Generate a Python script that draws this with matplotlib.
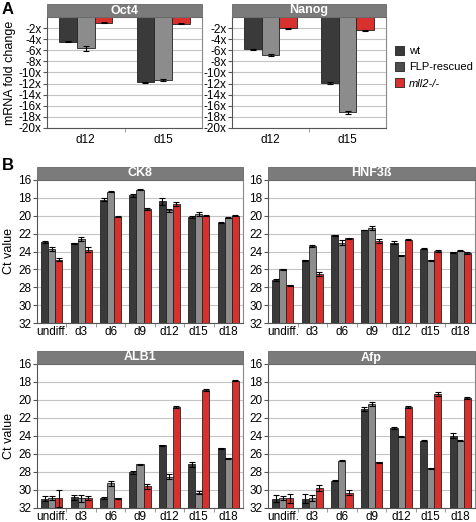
import numpy as np
import matplotlib
matplotlib.use("Agg")
import matplotlib.pyplot as plt
from matplotlib.patches import Rectangle, Patch

plt.rcParams['font.family'] = ['Liberation Sans', 'DejaVu Sans']
plt.rcParams['font.size'] = 8

# ---- data ----
series = ['wt', 'FLP-rescued', 'mll2-/-']
colors = ['#3a3a3a', '#8c8c8c', '#d8302c']
legend_colors = ['#3a3a3a', '#4d4d4d', '#d8302c']

days_a = ['d12', 'd15']
oct4 = [[-4.45, -11.8], [-5.65, -11.35], [-1.0, -1.2]]
oct4_err = [[0.1, 0.1], [0.4, 0.2], [0.15, 0.15]]
nanog = [[-5.8, -11.9], [-6.8, -17.2], [-2.05, -2.4]]
nanog_err = [[0.1, 0.1], [0.2, 0.2], [0.1, 0.1]]

days_b = ['undiff.', 'd3', 'd6', 'd9', 'd12', 'd15', 'd18']
ck8 = [[22.9, 23.1, 18.2, 17.7, 18.4, 20.1, 20.8],
       [23.7, 22.6, 17.3, 17.1, 19.4, 19.8, 20.2],
       [24.9, 23.8, 20.1, 19.25, 18.7, 20.0, 20.0]]
ck8_err = [[0.1, 0.1, 0.15, 0.15, 0.4, 0.1, 0.05],
           [0.2, 0.25, 0.05, 0.05, 0.15, 0.2, 0.05],
           [0.2, 0.3, 0.05, 0.1, 0.25, 0.05, 0.05]]
hnf = [[27.2, 25.0, 22.2, 21.6, 23.0, 23.7, 24.1],
       [26.0, 23.4, 23.0, 21.4, 24.4, 25.0, 23.9],
       [27.8, 26.5, 22.5, 22.8, 22.7, 23.9, 24.2]]
hnf_err = [[0.1, 0.05, 0.05, 0.05, 0.2, 0.05, 0.05],
           [0.05, 0.15, 0.25, 0.2, 0.05, 0.05, 0.05],
           [0.05, 0.2, 0.05, 0.2, 0.05, 0.1, 0.1]]
alb1 = [[30.95, 30.8, 30.9, 28.05, 25.05, 27.15, 25.35],
        [30.9, 30.9, 29.25, 27.15, 28.5, 30.3, 26.45],
        [30.9, 30.9, 30.9, 29.6, 20.8, 18.9, 17.85]]
alb1_err = [[0.3, 0.3, 0.1, 0.2, 0.1, 0.3, 0.05],
            [0.2, 0.4, 0.3, 0.05, 0.25, 0.15, 0.05],
            [0.95, 0.25, 0.05, 0.3, 0.1, 0.1, 0.05]]
afp = [[30.95, 30.95, 28.95, 21.0, 23.1, 24.5, 23.95],
       [30.9, 30.9, 26.75, 20.45, 24.1, 27.6, 24.5],
       [30.9, 29.75, 30.3, 26.9, 20.75, 19.3, 19.8]]
afp_err = [[0.35, 0.5, 0.1, 0.2, 0.1, 0.05, 0.25],
           [0.2, 0.3, 0.05, 0.25, 0.05, 0.05, 0.05],
           [0.5, 0.35, 0.3, 0.05, 0.1, 0.2, 0.1]]

W, H = 476, 522
fig = plt.figure(figsize=(W / 100, H / 100), dpi=100)


def px_axes(x0, y0, x1, y1):
    return fig.add_axes([x0 / W, 1 - y1 / H, (x1 - x0) / W, (y1 - y0) / H])


def title_bar(ax, text):
    bb = ax.get_position()
    h = 13 / H
    fig.add_artist(Rectangle((bb.x0, bb.y1), bb.width, h, transform=fig.transFigure,
                             facecolor='#7b7b7b', edgecolor='#666666', lw=0.6))
    fig.text(bb.x0 + bb.width / 2, bb.y1 + h / 2, text, color='white',
             fontweight='bold', fontsize=9, ha='center', va='center')


def style(ax, cats):
    for s in ax.spines.values():
        s.set_color('#888888')
        s.set_linewidth(0.8)
    ax.spines['left'].set_color('#555555')
    ax.spines['bottom'].set_color('#555555')
    ax.set_axisbelow(True)
    ax.yaxis.grid(True, color='#c4c4c4', lw=0.8)
    ax.set_xticks(np.arange(len(cats)))
    ax.set_xticklabels(cats, fontsize=8.5)
    ax.set_xticks(np.arange(len(cats) - 1) + 0.5, minor=True)
    ax.tick_params(axis='x', which='major', length=0, pad=2.5)
    ax.tick_params(axis='x', which='minor', length=3, color='#888888')
    ax.tick_params(axis='y', length=3, color='#555555', labelsize=8.5, pad=1)
    ax.set_xlim(-0.5, len(cats) - 0.5)


def draw_a(ax, vals, errs, cats):
    w = 0.23
    x = np.arange(len(cats))
    for i in range(3):
        ax.bar(x + (i - 1) * w, vals[i], w, yerr=errs[i], color=colors[i],
               edgecolor='#222222', lw=0.6,
               error_kw=dict(ecolor='black', elinewidth=0.8, capsize=2, capthick=0.8))
    ax.set_ylim(-20, 0)
    ticks = np.arange(-20, 0, 2)
    ax.set_yticks(ticks)
    ax.set_yticklabels(['%dx' % t for t in ticks])
    style(ax, cats)
    ax.tick_params(axis='x', which='major', pad=4)


def draw_b(ax, vals, errs, cats):
    w = 0.24
    x = np.arange(len(cats))
    for i in range(3):
        v = np.array(vals[i])
        ax.bar(x + (i - 1) * w, v - 32, w, bottom=32, yerr=[errs[i], errs[i]],
               color=colors[i], edgecolor='#222222', lw=0.6,
               error_kw=dict(ecolor='black', elinewidth=0.8, capsize=2, capthick=0.8))
    ax.set_ylim(32, 16)
    ax.set_yticks(np.arange(16, 33, 2))
    style(ax, cats)


ax1 = px_axes(47, 17, 202, 128)
draw_a(ax1, oct4, oct4_err, days_a)
title_bar(ax1, 'Oct4')
ax1.set_ylabel('mRNA fold change', fontsize=9, labelpad=2)

ax2 = px_axes(232, 17, 386, 128)
draw_a(ax2, nanog, nanog_err, days_a)
title_bar(ax2, 'Nanog')

handles = [Patch(facecolor=c, edgecolor='#222222', lw=0.6) for c in legend_colors]
leg = fig.legend(handles, series, loc='upper left', bbox_to_anchor=(395 / W, 1 - 46 / H),
                 frameon=False, fontsize=8, handlelength=0.8, handleheight=0.8,
                 handletextpad=0.45, labelspacing=0.55, borderaxespad=0, borderpad=0)
leg.get_texts()[2].set_style('italic')

ax3 = px_axes(37, 180, 243, 323)
draw_b(ax3, ck8, ck8_err, days_b)
title_bar(ax3, 'CK8')
ax3.set_ylabel('Ct value', fontsize=9, labelpad=2)

ax4 = px_axes(268, 180, 475, 323)
draw_b(ax4, hnf, hnf_err, days_b)
title_bar(ax4, 'HNF3ß')

ax5 = px_axes(37, 364, 243, 508)
draw_b(ax5, alb1, alb1_err, days_b)
title_bar(ax5, 'ALB1')
ax5.set_ylabel('Ct value', fontsize=9, labelpad=2)

ax6 = px_axes(268, 364, 475, 508)
draw_b(ax6, afp, afp_err, days_b)
title_bar(ax6, 'Afp')

fig.text(2 / W, 1 - 2 / H, 'A', fontsize=12, fontweight='bold', ha='left', va='top')
fig.text(2 / W, 1 - 158 / H, 'B', fontsize=12, fontweight='bold', ha='left', va='top')

fig.savefig('out.png', dpi=100)
